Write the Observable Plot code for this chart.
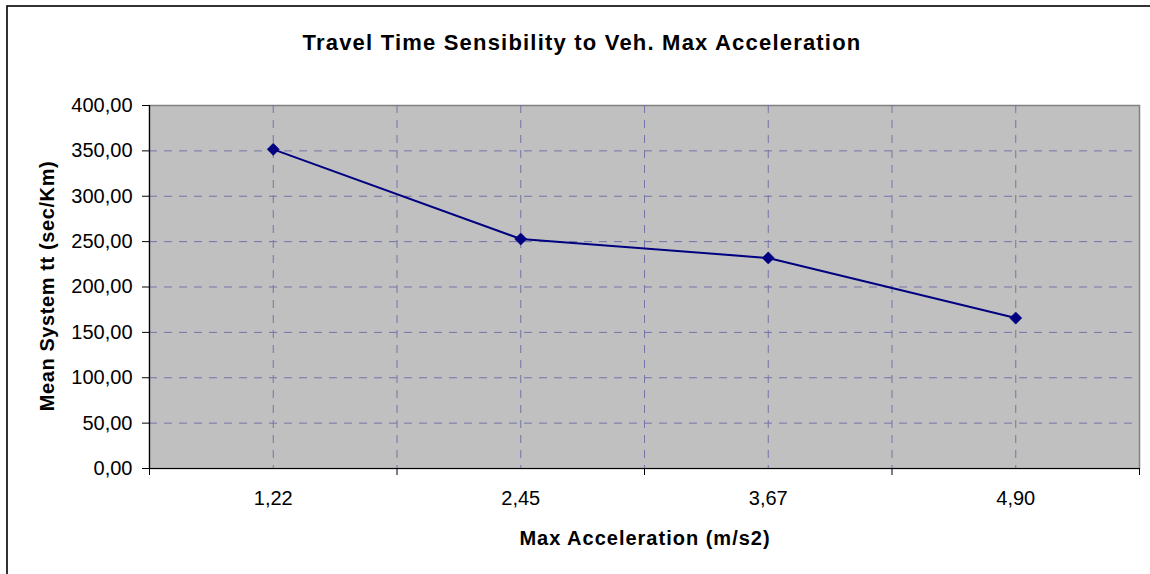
<!DOCTYPE html>
<html>
<head>
<meta charset="utf-8">
<script src="https://cdn.jsdelivr.net/npm/d3@7"></script>
<script src="https://cdn.jsdelivr.net/npm/@observablehq/plot@0.6"></script>
<style>
  html, body { margin: 0; padding: 0; background: #fff; }
  svg { display: block; font-family: "Liberation Sans", Arial, sans-serif; }
</style>
</head>
<body>
<div id="chart"></div>
<script>
const categories = ["1,22", "2,45", "3,67", "4,90"];
const values = [351.7, 252.9, 232.0, 165.8];
const yTicks = [0, 50, 100, 150, 200, 250, 300, 350, 400];
const title = "Travel Time Sensibility to Veh. Max Acceleration";
const xTitle = "Max Acceleration (m/s2)";
const yTitle = "Mean System tt (sec/Km)";

const data = categories.map((c, i) => ({pos: i + 1, label: c, value: values[i]}));
const centers = categories.map((c, i) => i + 1);
const bounds = d3.range(categories.length + 1).map(i => i + 0.5);

const W = 1150, H = 574;
const gridColor = "#7474a8";
const fmt = d => d.toFixed(2).replace(".", ",");

const chart = Plot.plot({
  width: W,
  height: H,
  marginLeft: 149,
  marginRight: 11,
  marginTop: 105,
  marginBottom: 106,
  style: {fontFamily: "'Liberation Sans', Arial, sans-serif", fontSize: "20px", color: "#000", background: "transparent"},
  x: {type: "linear", domain: [0.5, categories.length + 0.5]},
  y: {domain: [0, 400]},
  marks: [
    Plot.frame({fill: "#c0c0c0", stroke: "#808080", strokeWidth: 1.5}),
    Plot.gridY(yTicks.filter(d => d > 0 && d < 400), {stroke: gridColor, strokeOpacity: 1, strokeDasharray: "8,7", strokeWidth: 1}),
    Plot.ruleX(bounds.slice(1, -1).concat(centers), {stroke: gridColor, strokeOpacity: 1, strokeDasharray: "8,7", strokeWidth: 1}),
    Plot.ruleY([0], {stroke: "#000", strokeWidth: 1.2}),
    Plot.ruleX([0.5], {stroke: "#000", strokeWidth: 1.2}),
    Plot.axisY({ticks: yTicks, tickFormat: fmt, tickSize: 7, tickPadding: 10, fontSize: 20, label: null, stroke: "#000"}),
    Plot.axisX({ticks: centers, tickFormat: i => categories[i - 1], tickSize: 0, tickPadding: 22, fontSize: 20, label: null}),
    Plot.axisX({ticks: bounds, tickFormat: () => "", tickSize: 7, label: null, stroke: "#000"}),
    Plot.line(data, {x: "pos", y: "value", stroke: "#000080", strokeWidth: 2}),
    Plot.dot(data, {x: "pos", y: "value", symbol: "diamond2", r: 5.5, fill: "#000080", stroke: "#000080", strokeWidth: 0.5})
  ]
});

const svg = d3.select(chart);
svg.append("rect")
  .attr("x", 7).attr("y", 6)
  .attr("width", W).attr("height", H)
  .attr("fill", "none").attr("stroke", "#000").attr("stroke-width", 1.6);

svg.append("text")
  .attr("x", 582).attr("y", 50)
  .attr("text-anchor", "middle")
  .attr("font-size", 22).attr("font-weight", "bold")
  .attr("letter-spacing", "1.2px")
  .text(title);

svg.append("text")
  .attr("x", 645).attr("y", 545)
  .attr("text-anchor", "middle")
  .attr("font-size", 20).attr("font-weight", "bold")
  .attr("letter-spacing", "1px")
  .text(xTitle);

svg.append("text")
  .attr("transform", "translate(54,286) rotate(-90)")
  .attr("text-anchor", "middle")
  .attr("font-size", 20).attr("font-weight", "bold")
  .attr("letter-spacing", "0.6px")
  .text(yTitle);

document.getElementById("chart").appendChild(chart);
</script>
</body>
</html>
